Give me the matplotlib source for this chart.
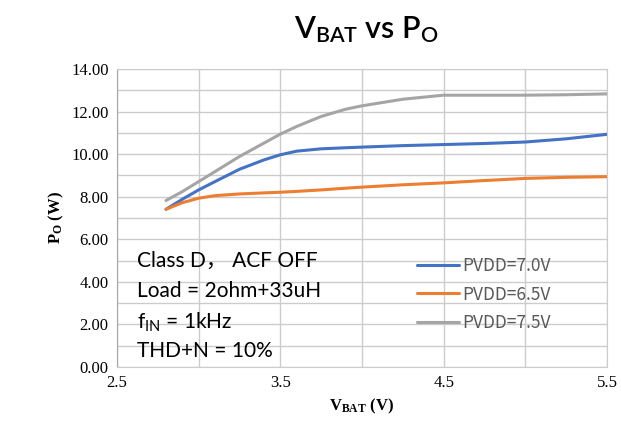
import matplotlib
matplotlib.use("Agg")
import matplotlib.pyplot as plt
from matplotlib.ticker import FixedLocator, MultipleLocator, FuncFormatter

plt.rcParams['mathtext.default'] = 'regular'

# data
vbat = [2.8, 2.9, 3.0, 3.1, 3.25, 3.4, 3.5, 3.6, 3.75, 3.9, 4.0, 4.25, 4.5, 4.75, 5.0, 5.25, 5.5]
po_70 = [7.41, 7.88, 8.32, 8.71, 9.29, 9.73, 9.97, 10.14, 10.25, 10.30, 10.33, 10.40, 10.45, 10.50, 10.57, 10.72, 10.93]
po_65 = [7.41, 7.72, 7.93, 8.05, 8.13, 8.18, 8.21, 8.25, 8.32, 8.40, 8.45, 8.56, 8.65, 8.76, 8.86, 8.91, 8.94]
po_75 = [7.82, 8.24, 8.71, 9.18, 9.89, 10.52, 10.94, 11.30, 11.77, 12.11, 12.27, 12.58, 12.77, 12.77, 12.77, 12.79, 12.83]
series = [("PVDD=7.0V", po_70, "#4472c4"),
          ("PVDD=6.5V", po_65, "#ed7d31"),
          ("PVDD=7.5V", po_75, "#a5a5a5")]
xticks = [2.5, 3.5, 4.5, 5.5]
notes = ["Class D\uff0c ACF OFF", "Load = 2ohm+33uH", "f$_{IN}$ = 1kHz", "THD+N = 10%"]
note_y = [0.356, 0.255, 0.151, 0.054]

fig = plt.figure(figsize=(6.21, 4.28), dpi=100)
ax = fig.add_axes([0.1884, 0.1425, 0.789, 0.6963])

for label, y, c in series:
    ax.plot(vbat, y, color=c, lw=2.2, label=label, solid_capstyle='round',
            solid_joinstyle='round')

ax.set_xlim(2.5, 5.5)
ax.set_ylim(0, 14)
ax.xaxis.set_major_locator(FixedLocator(xticks))
ax.xaxis.set_minor_locator(MultipleLocator(0.5))
ax.set_xticklabels([str(v) for v in xticks])
# gridline every 1 W, label every 2 W
ax.yaxis.set_major_locator(MultipleLocator(1))
ax.yaxis.set_major_formatter(FuncFormatter(lambda v, p: f"{v:.2f}" if round(v) % 2 == 0 else ""))
ax.grid(True, which='both', color='#cccccc', lw=1)
ax.set_axisbelow(True)
ax.tick_params(which='both', length=0, labelsize=12, labelcolor='black', pad=6)
for lab in ax.get_xticklabels() + ax.get_yticklabels():
    lab.set_family('Liberation Serif')
for s in ax.spines.values():
    s.set_color('#cccccc')
ax.spines['left'].set_color('#a6a6a6')

ax.set_xlabel("V$_{BAT}$ (V)", family='Liberation Serif', fontweight='bold', fontsize=12)
ax.set_ylabel("P$_{O}$ (W)", family='Liberation Serif', fontweight='bold', fontsize=12)

fig.text(0.59, 0.93, "V$_{BAT}$ vs P$_{O}$", ha='center', va='center', fontsize=22,
         family='Lato', fontweight='semibold', color='black')

for t, yy in zip(notes, note_y):
    ax.text(0.041, yy, t, transform=ax.transAxes, fontsize=15,
            family=['Lato', 'Noto Sans CJK SC'], va='center', color='black')

ax.legend(loc='upper left', bbox_to_anchor=(0.612, 0.37), frameon=False,
          borderaxespad=0, borderpad=0,
          prop={'family': 'Noto Sans CJK SC', 'size': 12.5}, labelcolor='#595959',
          handlelength=2.4, handletextpad=0.2, labelspacing=0.62)

fig.savefig("out.png", dpi=100)
